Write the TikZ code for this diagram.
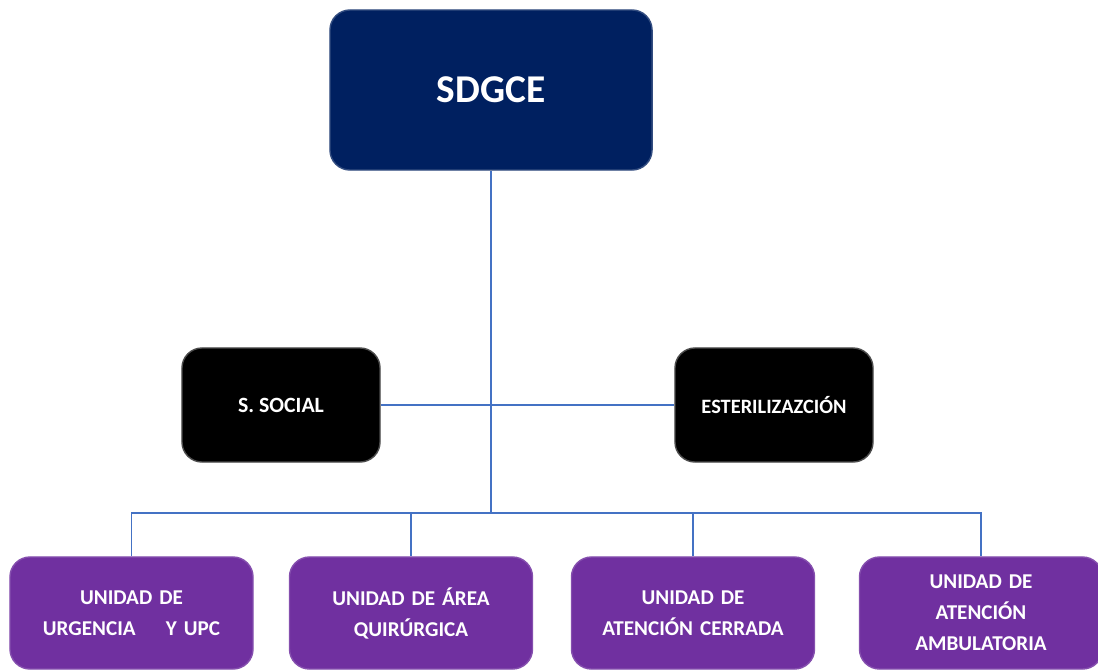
\documentclass[tikz,border=0pt]{standalone}
\usepackage{fontspec}
\setmainfont{Carlito}
\usetikzlibrary{positioning}

\definecolor{azuljefe}{HTML}{002060}
\definecolor{moradou}{HTML}{7030A0}
\definecolor{lineaazul}{HTML}{4472C4}

\tikzset{
  caja/.style={rounded corners=0.5cm, align=center, text=white, font=\bfseries},
  jefe/.style={caja, fill=azuljefe, draw=azuljefe!80!white, line width=1pt,
    minimum width=8.05cm, minimum height=4cm, font=\bfseries\fontsize{28}{32}\selectfont},
  staff/.style={caja, fill=black, draw=black!70, line width=1pt,
    minimum width=4.95cm, minimum height=2.85cm, font=\bfseries\fontsize{15.5}{18}\selectfont},
  unidad/.style={caja, fill=moradou, draw=moradou!85!white, line width=1pt,
    minimum width=6.075cm, minimum height=2.8cm, text width=5.6cm,
    font=\bfseries\fontsize{15}{22}\selectfont},
  conector/.style={color=lineaazul, line width=0.9pt}
}

\begin{document}
\begin{tikzpicture}[x=0.025cm, y=-0.025cm]
    \useasboundingbox (0,0) rectangle (1098,671);
    \node[jefe] (sdgce) at (491,90) {SDGCE};
    \node[staff] (social) at (281,405) {S. SOCIAL};
    \node[staff, font=\bfseries\fontsize{14.5}{18}\selectfont] (ester) at (774,405) {ESTERILIZAZCIÓN};
    \node[unidad] (urg) at (131.5,613) {UNIDAD DE\\URGENCIA\hspace{1.1em} Y UPC};
    \node[unidad] (quir) at (411,613) {UNIDAD DE ÁREA\\QUIRÚRGICA};
    \node[unidad] (cerr) at (693,613) {UNIDAD DE\\ATENCIÓN CERRADA};
    \node[unidad] (amb) at (981,613) {UNIDAD DE\\ATENCIÓN\\AMBULATORIA};
    \coordinate (bus) at (491,513);
    % lineas de mando
    \draw[conector] (sdgce.south) -- (bus);
    \draw[conector] (social.east) -- (ester.west);
    \foreach \u in {urg,quir,cerr,amb}
      \draw[conector] (bus) -| (\u.north);
\end{tikzpicture}
\end{document}
